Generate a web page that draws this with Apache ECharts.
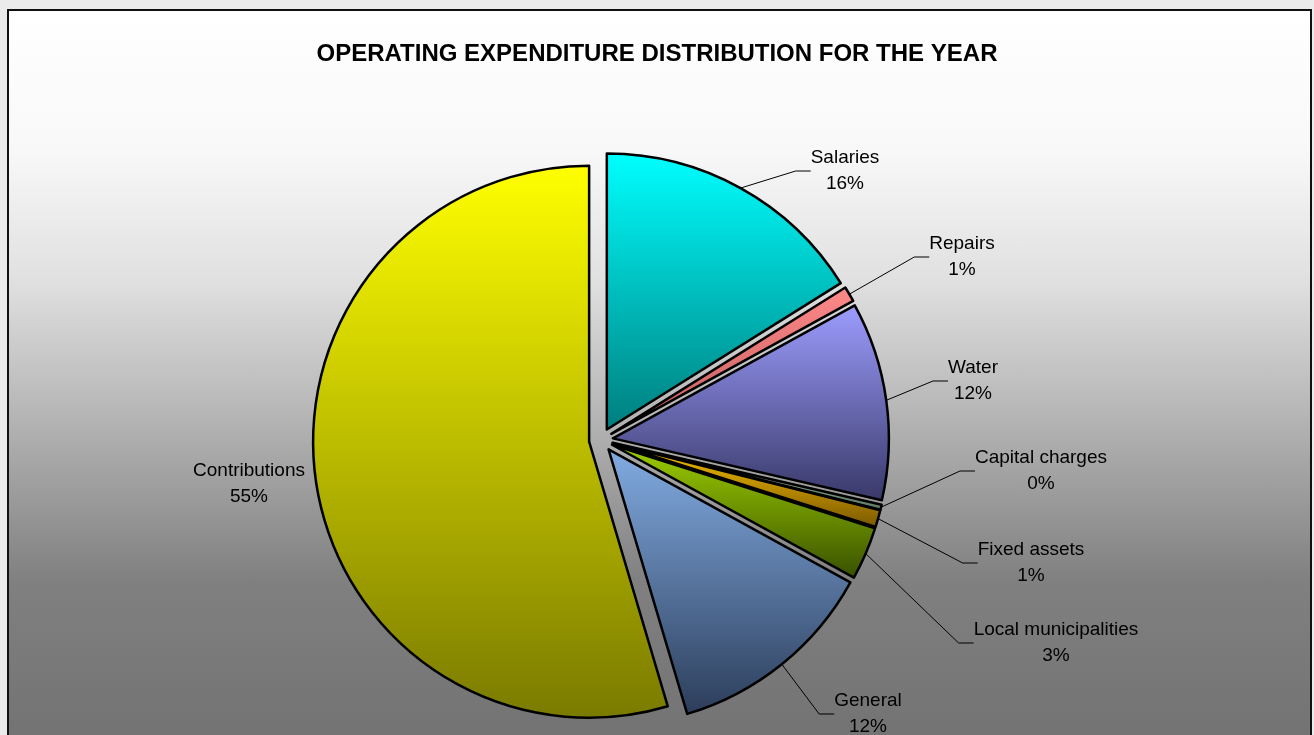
<!DOCTYPE html>
<html>
<head>
<meta charset="utf-8">
<script src="https://cdn.jsdelivr.net/npm/echarts@6/dist/echarts.min.js"></script>
<style>
  html, body { margin: 0; padding: 0; width: 1314px; height: 735px; overflow: hidden; background: #ebebeb; }
  #frame {
    position: absolute; left: 7px; top: 9px; width: 1301px; height: 740px;
    border: 2px solid #111;
    background: linear-gradient(to bottom, #ffffff 0px, #f8f8f8 140px, #e0e0e0 270px,
                #b0b0b0 420px, #808080 570px, #737373 726px);
  }
  #chart { position: absolute; left: 0; top: 0; width: 1314px; height: 735px; }
</style>
</head>
<body>
<div id="frame"></div>
<div id="chart"></div>
<script>
// Operating expenditure shares (% of the year's total)
const categories = ['Salaries', 'Repairs', 'Water', 'Capital charges', 'Fixed assets',
                    'Local municipalities', 'General', 'Contributions'];
const shares = [16.1, 0.9, 11.6, 0.3, 1.0, 3.1, 12.4, 54.6];

// Each slice fades from its light tone at the top to a dark tone at the bottom
const topColors    = ['#00ffff', '#ff8a8a', '#9d9dff', '#a3c4ab', '#ffc400', '#9fd000', '#82ace2', '#ffff00'];
const bottomColors = ['#007d7d', '#c05a5a', '#383868', '#5e7a66', '#7a5800', '#385000', '#2c3d5a', '#7a7a00'];

// Where each data label block is centred (page pixels); leader lines are routed by ECharts
const labelSpots = [[845, 171], [962, 257], [973, 381], [1041, 471], [1031, 563],
                    [1056, 643], [868, 714], [249, 484]];
// Contributions sits right beside its slice, so it carries no leader line
const showLeader = [true, true, true, true, true, true, true, false];

const FONT = '"Liberation Sans", Arial, sans-serif';
const CENTER = [601, 440];
const RADIUS = 276;
const EXPLODE = 12;

const chart = echarts.init(document.getElementById('chart'), null, { renderer: 'canvas' });

const sliceData = categories.map((name, i) => ({
  name,
  value: shares[i],
  selected: true,           // every slice is pulled out from the centre
  itemStyle: {
    color: {
      type: 'linear', x: 0, y: 0, x2: 0, y2: 1,
      colorStops: [{ offset: 0, color: topColors[i] }, { offset: 1, color: bottomColors[i] }]
    }
  }
}));

const labelData = categories.map((name, i) => ({
  name,
  value: shares[i],
  labelLine: { show: showLeader[i] }
}));

chart.setOption({
  animation: false,
  title: {
    text: 'OPERATING EXPENDITURE DISTRIBUTION FOR THE YEAR',
    left: 'center',
    top: 37,
    textStyle: { fontFamily: FONT, fontSize: 24, fontWeight: 'bold', color: '#000' }
  },
  series: [
    {
      // exploded slices
      type: 'pie',
      center: CENTER,
      radius: RADIUS,
      startAngle: 90,
      clockwise: true,
      selectedMode: 'multiple',
      selectedOffset: EXPLODE,
      silent: true,
      emphasis: { disabled: true },
      itemStyle: { borderColor: '#000', borderWidth: 2.5 },
      label: { show: false },
      labelLine: { show: false },
      data: sliceData
    },
    {
      // data labels with leader lines, laid over the exploded rim
      type: 'pie',
      center: CENTER,
      radius: RADIUS + EXPLODE,
      startAngle: 90,
      clockwise: true,
      silent: true,
      avoidLabelOverlap: false,
      emphasis: { disabled: true },
      itemStyle: { color: 'rgba(0,0,0,0)', borderWidth: 0 },
      label: {
        formatter: p => `{t|${p.name}}\n{t|${Math.round(p.percent)}%}`,
        rich: { t: { fontFamily: FONT, fontSize: 19, lineHeight: 26, align: 'center', color: '#000' } }
      },
      labelLine: { length: 20, length2: 15, minTurnAngle: 90, lineStyle: { color: '#000', width: 1 } },
      labelLayout: p => ({
        x: labelSpots[p.dataIndex][0],
        y: labelSpots[p.dataIndex][1],
        align: 'center',
        verticalAlign: 'middle'
      }),
      data: labelData
    }
  ]
});
</script>
</body>
</html>
